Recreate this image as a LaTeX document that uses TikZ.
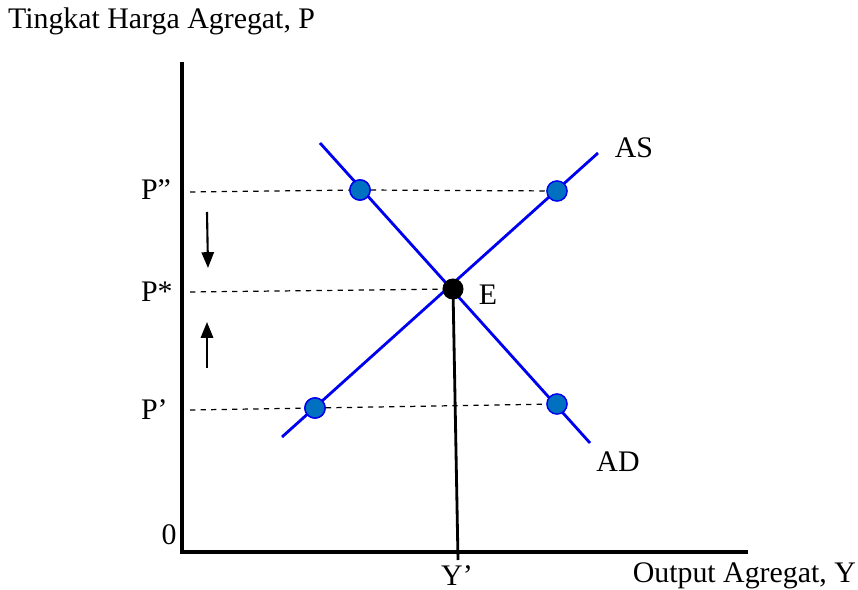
\documentclass[tikz,border=0pt]{standalone}
\usepackage{fontspec}
\setmainfont{Liberation Serif}
\usepackage{xcolor}
\usetikzlibrary{arrows.meta, positioning}
\definecolor{curveblue}{RGB}{0, 0, 240}
\definecolor{dotblue}{RGB}{0, 112, 192}

\begin{document}
\begin{tikzpicture}[
    x=0.02cm, y=-0.02cm,
    lbl/.style={inner sep=1pt, font=\fontsize{17}{19}\selectfont},
    axis/.style={line width=2.2pt, black},
    curve/.style={line width=1.6pt, color=curveblue},
    guide/.style={dashed, line width=0.7pt, black},
    dot/.style={circle, fill=dotblue, draw=curveblue, line width=0.8pt,
      minimum size=11.5pt, inner sep=0pt},
    eq/.style={circle, fill=black, minimum size=12pt, inner sep=0pt},
    arr/.style={-{Triangle[length=9pt, width=7pt]}, line width=1.2pt}
]
  \useasboundingbox (0,0) rectangle (858,590);

  % axes
  \coordinate (o)    at (182,552);
  \coordinate (ytop) at (182,62);
  \coordinate (xend) at (748,552);
  \draw[axis] (ytop) -- (o) -- (xend);
  \node[lbl, anchor=west] (ylab) at (6,21) {Tingkat Harga Agregat, P};
  \node[lbl, anchor=east] (xlab) at (858,576) {Output Agregat, Y};
  \node[lbl] (zero) at (169,535) {0};

  % curves
  \coordinate (as0) at (282,437);
  \coordinate (as1) at (598,153);
  \coordinate (ad0) at (320,143);
  \coordinate (ad1) at (590,443);
  \draw[curve] (as0) -- (as1);
  \draw[curve] (ad0) -- (ad1);
  \node[lbl] (aslab) at (634,148) {AS};
  \node[lbl] (adlab) at (618,462) {AD};

  % price levels
  \coordinate (phi) at (190,192);
  \coordinate (pst) at (190,292);
  \coordinate (plo) at (190,410);
  \node[lbl, anchor=west] (phil) at (139,190) {P”};
  \node[lbl, anchor=west] (pstl) at (139,292) {P*};
  \node[lbl, anchor=west] (plol) at (139,410) {P’};

  \node[dot] (adhi) at (360,190) {};
  \node[dot] (ashi) at (557,191) {};
  \node[dot] (aslo) at (315,408) {};
  \node[dot] (adlo) at (557,404) {};
  \node[eq]  (E)    at (453,289) {};
  \node[lbl] (elab) at (488,295) {E};

  \draw[guide] (phi) -- (adhi) -- (ashi);
  \draw[guide] (pst) -- (E);
  \draw[guide] (plo) -- (aslo) -- (adlo);
  \node[dot] at (adhi) {};
  \node[dot] at (aslo) {};

  % output
  \coordinate (yq) at (458,560);
  \draw[line width=1.6pt] (E.center) -- (yq);
  \node[lbl] (yqlab) at (457,576) {Y’};

  % adjustment arrows
  \coordinate (dn0) at (207,212);
  \coordinate (dn1) at (208,268);
  \coordinate (up0) at (207,368);
  \coordinate (up1) at (207,322);
  \draw[arr] (dn0) -- (dn1);
  \draw[arr] (up0) -- (up1);
\end{tikzpicture}
\end{document}
